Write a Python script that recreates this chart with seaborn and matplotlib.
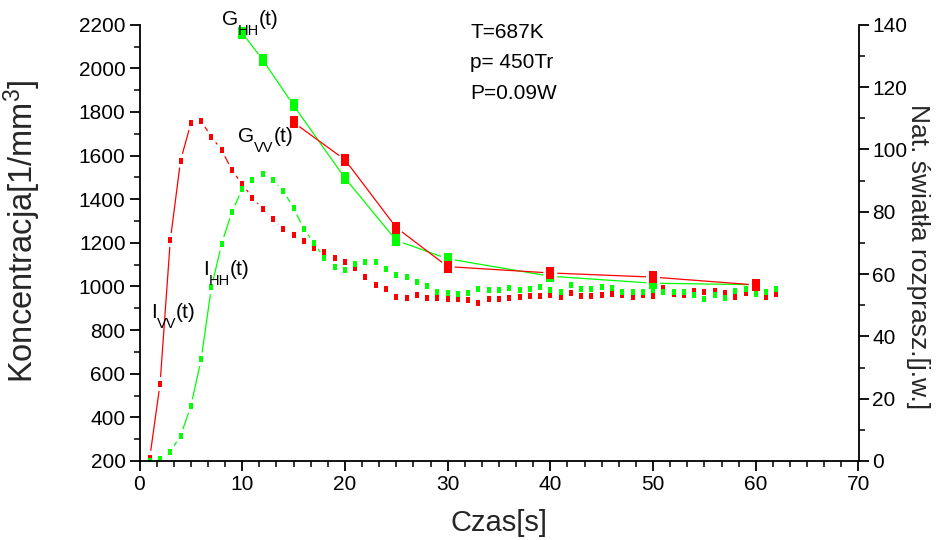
import numpy as np
import pandas as pd
import seaborn as sns
import matplotlib
matplotlib.use("Agg")
import matplotlib.pyplot as plt
from matplotlib.ticker import MultipleLocator, AutoMinorLocator

# --- data -------------------------------------------------------------
# time axis of the scattered-light measurements [s]
t_light = list(range(1, 63))

# scattered light intensity, VV polarisation [j.w.]
i_vv = [1.05, 24.7, 70.9, 96.4, 108.4, 109.1, 104.0, 99.8, 93.3, 88.8,
        84.5, 80.8, 77.6, 74.4, 72.5, 70.6, 68.5, 67.0, 65.2, 63.8,
        62.0, 59.2, 56.4, 55.1, 52.6, 52.4, 53.3, 52.2, 52.2, 52.1,
        51.9, 51.6, 50.8, 52.0, 52.0, 52.2, 52.7, 52.9, 52.9, 53.3,
        52.7, 53.8, 53.1, 53.1, 53.3, 53.5, 53.3, 52.7, 53.2, 52.9,
        55.4, 53.6, 53.3, 54.5, 54.1, 54.5, 54.0, 52.7, 53.8, 54.3,
        52.5, 53.5]

# scattered light intensity, HH polarisation [j.w.]
i_hh = [0.0, 0.8, 3.0, 8.1, 17.6, 32.6, 55.7, 69.7, 80.0, 87.2,
        90.2, 92.1, 90.2, 86.7, 81.1, 74.5, 69.9, 65.2, 62.2, 61.3,
        63.2, 63.8, 63.8, 61.7, 59.7, 58.9, 57.5, 56.1, 54.1, 54.0,
        53.5, 54.0, 55.1, 54.9, 54.9, 55.4, 54.9, 55.1, 55.7, 54.9,
        54.3, 56.5, 55.3, 55.2, 55.9, 55.4, 54.1, 54.3, 54.3, 54.9,
        54.1, 54.3, 54.1, 53.3, 51.9, 53.3, 52.4, 54.5, 55.1, 53.5,
        54.3, 55.1]

# particle concentration [1/mm^3]
t_ghh = [10, 12, 15, 20, 25, 30, 40, 50, 60]
g_hh = [2162, 2039, 1830, 1497, 1211, 1127, 1047, 1015, 1008]
t_gvv = [15, 20, 25, 30, 40, 50, 60]
g_vv = [1752, 1581, 1270, 1091, 1062, 1043, 1007]

RED = "#ff0000"
GREEN = "#00ff00"
DPI = 100

# --- style ------------------------------------------------------------
sns.set_theme(style="ticks")
plt.rcParams["font.family"] = ["Liberation Sans", "DejaVu Sans"]
plt.rcParams["mathtext.fontset"] = "custom"
plt.rcParams["mathtext.rm"] = "Liberation Sans"
plt.rcParams["axes.linewidth"] = 1.3
plt.rcParams["xtick.major.width"] = 1.3
plt.rcParams["ytick.major.width"] = 1.3
plt.rcParams["xtick.minor.width"] = 1.1
plt.rcParams["ytick.minor.width"] = 1.1
plt.rcParams["xtick.color"] = "black"
plt.rcParams["ytick.color"] = "black"
plt.rcParams["axes.edgecolor"] = "black"

fig = plt.figure(figsize=(9.44, 5.40), dpi=DPI)
fig.subplots_adjust(left=139.5 / 944, right=858.5 / 944,
                    bottom=79 / 540, top=515.3 / 540)
ax = fig.add_subplot(111)
ax2 = ax.twinx()

ax.set_xlim(0, 70)
ax.set_ylim(200, 2200)
ax2.set_ylim(0, 140)

# concentration on top of the light-intensity axis
ax.set_zorder(ax2.get_zorder() + 1)
ax.patch.set_visible(False)

for a in (ax, ax2):
    a.spines["top"].set_visible(False)
ax.spines["right"].set_visible(False)
ax2.spines["left"].set_visible(False)
ax2.spines["bottom"].set_visible(False)

ax.xaxis.set_major_locator(MultipleLocator(10))
ax.xaxis.set_minor_locator(AutoMinorLocator(6))
ax.yaxis.set_major_locator(MultipleLocator(200))
ax.yaxis.set_minor_locator(AutoMinorLocator(2))
ax2.yaxis.set_major_locator(MultipleLocator(20))
ax2.yaxis.set_minor_locator(AutoMinorLocator(2))

for a in (ax, ax2):
    a.tick_params(which="major", direction="out", length=7, labelsize=15,
                  pad=3, labelcolor="black")
    a.tick_params(which="minor", direction="out", length=4)
ax2.tick_params(axis="y", which="both", left=False, right=True)

ax.set_xlabel("Czas[s]", fontsize=21, labelpad=11)
ax.set_ylabel(r"Koncentracja[1/mm$\mathregular{^3}$]", fontsize=23.5)
ax.yaxis.set_label_coords(-0.134, 0.527)
ax2.set_ylabel("Nat. światła rozprasz.[j.w.]", fontsize=19, rotation=270)
ax2.yaxis.set_label_coords(1.0995, 0.4676)

# rectangular symbols (taller than wide)
small_sq = [(-0.39, -0.5), (0.39, -0.5), (0.39, 0.5), (-0.39, 0.5), (-0.39, -0.5)]
big_sq = [(-0.33, -0.5), (0.33, -0.5), (0.33, 0.5), (-0.33, 0.5), (-0.33, -0.5)]


def gapped_line(axis, xs, ys, color, gap_px=7.0, lw=0.9, z=2):
    """Connect consecutive points, leaving a gap around each symbol."""
    pts = axis.transData.transform(np.column_stack([xs, ys]))
    inv = axis.transData.inverted()
    for p0, p1 in zip(pts[:-1], pts[1:]):
        d = np.hypot(*(p1 - p0))
        if d <= 2 * gap_px:
            continue
        u = (p1 - p0) / d
        seg = inv.transform(np.array([p0 + u * gap_px, p1 - u * gap_px]))
        axis.plot(seg[:, 0], seg[:, 1], color=color, lw=lw, zorder=z,
                  solid_capstyle="butt")


light = pd.DataFrame({"t": t_light, "vv": i_vv, "hh": i_hh})
conc_hh = pd.DataFrame({"t": t_ghh, "g": g_hh})
conc_vv = pd.DataFrame({"t": t_gvv, "g": g_vv})

# scattered light (right axis)
gapped_line(ax2, light["t"], light["vv"], RED)
gapped_line(ax2, light["t"], light["hh"], GREEN)
sns.scatterplot(data=light, x="t", y="vv", ax=ax2, marker=small_sq, s=19,
                color=RED, linewidth=0, zorder=3, legend=False)
sns.scatterplot(data=light, x="t", y="hh", ax=ax2, marker=small_sq, s=19,
                color=GREEN, linewidth=0, zorder=4, legend=False)

# concentration (left axis)
gapped_line(ax, conc_hh["t"], conc_hh["g"], GREEN)
gapped_line(ax, conc_vv["t"], conc_vv["g"], RED)
sns.scatterplot(data=conc_hh, x="t", y="g", ax=ax, marker=big_sq, s=64,
                color=GREEN, linewidth=0, zorder=5, legend=False)
sns.scatterplot(data=conc_vv, x="t", y="g", ax=ax, marker=big_sq, s=64,
                color=RED, linewidth=0, zorder=6, legend=False)

# curve labels with a deep subscript: main letter, subscript, "(t)"
renderer = fig.canvas.get_renderer()


def curve_label(x, y, main, sub, tail="(t)", size=15, subsize=10.5,
                drop=7.0):
    kw = dict(color="black", va="baseline", ha="left", zorder=10,
              xycoords="data", textcoords="offset points")
    t1 = ax.annotate(main, (x, y), xytext=(0, 0), fontsize=size, **kw)
    w1 = t1.get_window_extent(renderer).width * 72 / DPI
    t2 = ax.annotate(sub, (x, y), xytext=(w1, -drop), fontsize=subsize, **kw)
    w2 = t2.get_window_extent(renderer).width * 72 / DPI
    ax.annotate(tail, (x, y), xytext=(w1 + w2, 0), fontsize=size, **kw)


curve_label(8.0, 2199, "G", "HH")
curve_label(9.6, 1662, "G", "VV")
curve_label(6.2, 1053, "I", "HH")
curve_label(1.1, 855, "I", "VV")

# experimental conditions
cond = dict(fontsize=15, color="black", va="baseline", ha="left", zorder=10)
ax.text(32.2, 2139, "T=687K", **cond)
ax.text(32.2, 2001, "p= 450Tr", **cond)
ax.text(32.2, 1859, "P=0.09W", **cond)

fig.savefig("out.png", dpi=DPI, facecolor="white")
